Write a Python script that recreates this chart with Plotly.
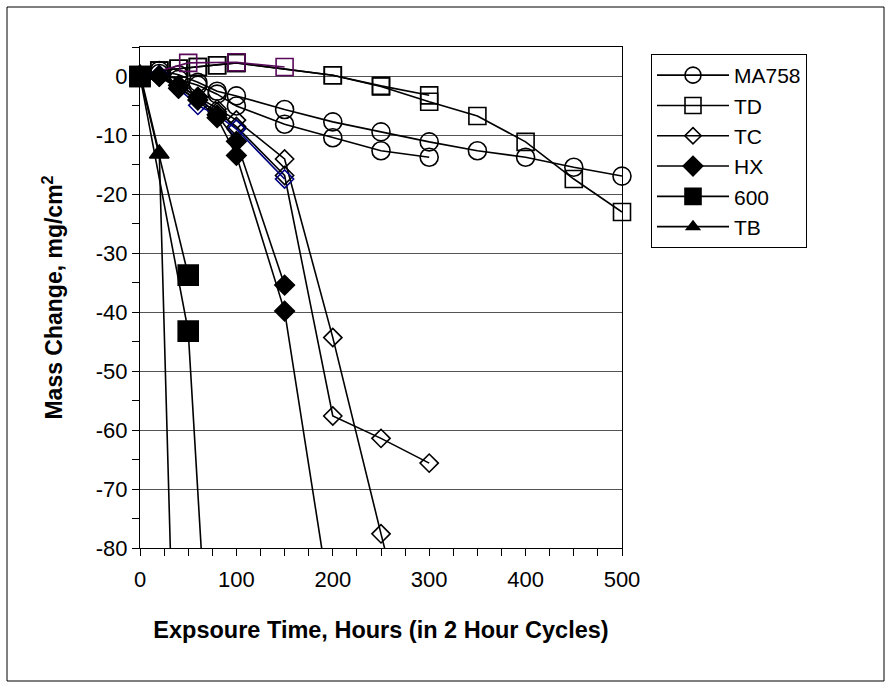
import plotly.graph_objects as go

# ---------------- data ----------------
hours_ma758_a = [0, 20, 40, 60, 80, 100, 150, 200, 250, 300, 350, 400, 450, 500]
mass_ma758_a = [0, 1.0, 0.3, -1.0, -2.5, -3.3, -5.6, -7.7, -9.4, -11.1, -12.6, -13.7, -15.4, -16.9]
hours_ma758_b = [0, 20, 40, 60, 80, 100, 150, 200, 250, 300]
mass_ma758_b = [0, 0.5, -0.5, -1.5, -3.0, -5.0, -8.1, -10.4, -12.6, -13.7]

hours_td_a = [0, 20, 40, 60, 80, 100, 200, 250, 300]
mass_td_a = [0, 1.0, 1.3, 1.6, 1.9, 2.3, 0.2, -1.6, -3.2]
hours_td_b = [0, 20, 40, 60, 80, 100, 200, 250, 300, 350, 400, 450, 500]
mass_td_b = [0, 1.0, 1.3, 1.6, 1.9, 2.3, 0.2, -1.7, -4.3, -6.7, -11.1, -17.4, -23.0]
hours_td_c = [0, 50, 100, 150]
mass_td_c = [0, 2.3, 2.4, 1.6]

hours_tc_a = [0, 20, 40, 60, 80, 100, 150, 200, 250, 300]
mass_tc_a = [0, 0.3, -1.5, -3.5, -5.5, -7.4, -14.0, -44.3, -77.6, -110]
hours_tc_b = [0, 20, 40, 60, 80, 100, 150, 200, 250, 300]
mass_tc_b = [0, 0.2, -1.8, -4.0, -6.0, -8.5, -16.8, -57.6, -61.4, -65.6]
hours_tc_c = [0, 20, 40, 60, 80, 100, 150]
mass_tc_c = [0, 0.2, -2.1, -4.9, -6.6, -8.9, -17.4]

hours_hx_a = [0, 20, 40, 60, 80, 100, 150]
mass_hx_a = [0, 0, -1.5, -3.5, -6.5, -11.0, -35.4]
hours_hx_b = [0, 20, 40, 60, 80, 100, 150, 200]
mass_hx_b = [0, 0, -2.0, -4.0, -7.0, -13.4, -39.8, -92]

hours_600_a = [0, 50]
mass_600_a = [0, -33.7]
hours_600_b = [0, 50, 100]
mass_600_b = [0, -43.2, -180]

hours_tb = [0, 20, 40]
mass_tb = [0.5, -13.1, -130]

x_tick_vals = [0, 100, 200, 300, 400, 500]
y_tick_vals = [0, -10, -20, -30, -40, -50, -60, -70, -80]
y_tick_text = ["0", "-10", "-20", "-30", "-40", "-50", "-60", "-70", "-80"]

Y_MIN, Y_MAX = -80, 5
X_MIN, X_MAX = 0, 500
FONT = "Liberation Sans, Arial, sans-serif"

series = [
    # (x, y, legend name, show in legend, symbol, size, color)
    (hours_ma758_a, mass_ma758_a, "MA758", True, "circle-open", 18, "black"),
    (hours_ma758_b, mass_ma758_b, "MA758", False, "circle-open", 18, "black"),
    (hours_td_a, mass_td_a, "TD", True, "square-open", 17, "black"),
    (hours_td_b, mass_td_b, "TD", False, "square-open", 17, "black"),
    (hours_td_c, mass_td_c, "TD", False, "square-open", 17, "#5a0a5a"),
    (hours_tc_a, mass_tc_a, "TC", True, "diamond-open", 14, "black"),
    (hours_tc_b, mass_tc_b, "TC", False, "diamond-open", 14, "black"),
    (hours_tc_c, mass_tc_c, "TC", False, "diamond-open", 14, "#000080"),
    (hours_hx_a, mass_hx_a, "HX", True, "diamond", 15, "black"),
    (hours_hx_b, mass_hx_b, "HX", False, "diamond", 15, "black"),
    (hours_600_a, mass_600_a, "600", True, "square", 20, "black"),
    (hours_600_b, mass_600_b, "600", False, "square", 20, "black"),
    (hours_tb, mass_tb, "TB", True, "triangle-up", 17, "black"),
]

fig = go.Figure()
for xs, ys, name, show, sym, size, color in series:
    sizes = [size if Y_MIN <= v <= Y_MAX + 1 else 0 for v in ys]
    fig.add_trace(go.Scatter(
        x=xs, y=ys, name=name, legendgroup=name, showlegend=show,
        mode="lines+markers", cliponaxis=False,
        line=dict(color=color, width=1.6),
        marker=dict(symbol=sym, size=sizes, color=color, opacity=1,
                    line=dict(color=color, width=1.6)),
    ))

# outer chart frame
px_l, px_r, px_t, px_b = 140, 622, 47, 548
pw, ph = px_r - px_l, px_b - px_t
fig.add_shape(type="rect", xref="paper", yref="paper",
              x0=(7 - px_l) / pw, x1=(884 - px_l) / pw,
              y0=(px_b - 681) / ph, y1=(px_b - 7) / ph,
              line=dict(color="black", width=1), layer="below")

fig.update_layout(
    width=891, height=688,
    margin=dict(l=px_l, r=891 - px_r, t=px_t, b=688 - px_b),
    paper_bgcolor="white", plot_bgcolor="white",
    font=dict(family=FONT, size=22, color="black"),
    legend=dict(
        x=(651 - px_l) / pw, y=(px_b - 54) / ph, xanchor="left", yanchor="top",
        bordercolor="black", borderwidth=1, bgcolor="white",
        font=dict(family=FONT, size=21, color="black"),
        tracegroupgap=0, itemwidth=72,
    ),
    xaxis=dict(
        range=[X_MIN, X_MAX], tickmode="array", tickvals=x_tick_vals,
        ticks="outside", ticklen=7, tickcolor="black", tickwidth=1,
        ticklabelstandoff=5,
        minor=dict(dtick=25, tick0=0, ticks="outside", ticklen=7, tickcolor="black", showgrid=False),
        showline=True, linecolor="black", linewidth=1, mirror=True,
        showgrid=False, zeroline=False,
        tickfont=dict(family=FONT, size=22),
        title=dict(text="<b>Expsoure Time, Hours (in 2 Hour Cycles)</b>",
                   font=dict(family=FONT, size=23.5), standoff=30),
    ),
    yaxis=dict(
        range=[Y_MIN, Y_MAX], tickmode="array", tickvals=y_tick_vals, ticktext=y_tick_text,
        ticks="outside", ticklen=7, tickcolor="black", tickwidth=1,
        minor=dict(dtick=5, tick0=0, ticks="outside", ticklen=7, tickcolor="black", showgrid=False),
        showline=True, linecolor="black", linewidth=1, mirror=True,
        showgrid=True, gridcolor="#555555", gridwidth=1, zeroline=False,
        tickfont=dict(family=FONT, size=22),
        title=dict(text="<b>Mass Change, mg/cm<sup>2</sup></b>",
                   font=dict(family=FONT, size=23), standoff=26),
    ),
)

fig.write_html("out.html")
